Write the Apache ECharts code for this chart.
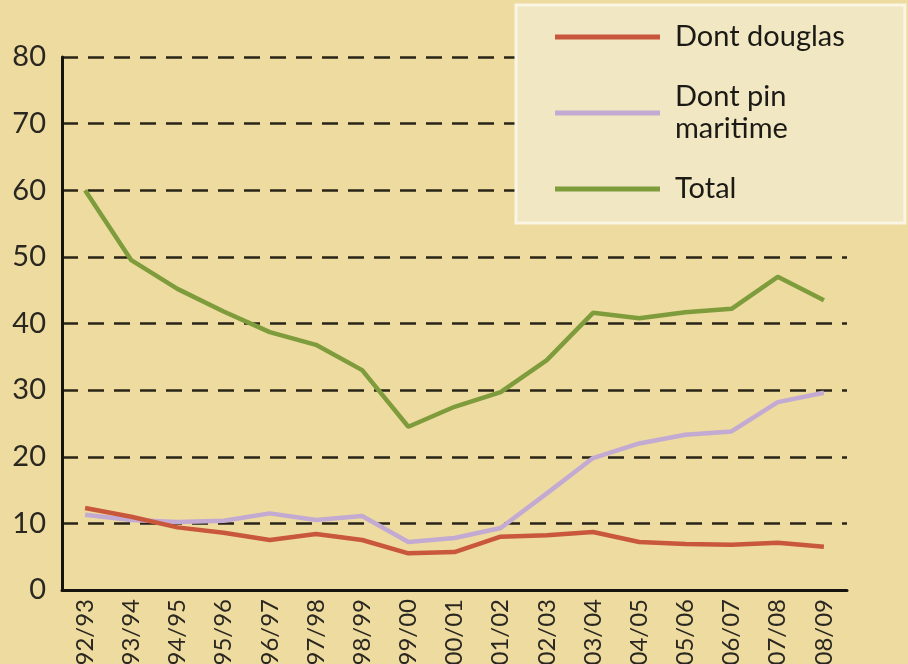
<!DOCTYPE html>
<html><head><meta charset="utf-8">
<script src="https://cdn.jsdelivr.net/npm/echarts@6/dist/echarts.min.js"></script>
<style>html,body{margin:0;padding:0;background:#eedb9f;}#c{width:908px;height:664px;}</style>
</head><body><div id="c"></div>
<script>
const categories = ['92/93','93/94','94/95','95/96','96/97','97/98','98/99','99/00','00/01','01/02','02/03','03/04','04/05','05/06','06/07','07/08','08/09'];
const douglas = [12.3, 11.0, 9.4, 8.6, 7.5, 8.4, 7.5, 5.5, 5.7, 8.0, 8.2, 8.7, 7.2, 6.9, 6.8, 7.1, 6.5];
const pinMaritime = [11.3, 10.5, 10.2, 10.4, 11.5, 10.5, 11.1, 7.2, 7.8, 9.3, 14.5, 19.8, 22.0, 23.3, 23.8, 28.2, 29.6];
const total = [60, 49.5, 45.2, 41.8, 38.7, 36.8, 33.0, 24.5, 27.5, 29.7, 34.5, 41.6, 40.8, 41.7, 42.2, 47.0, 43.5];
const yTicks = [0, 10, 20, 30, 40, 50, 60, 70, 80];

const chart = echarts.init(document.getElementById('c'));
const lineW = 4.5;
chart.setOption({
  backgroundColor: '#eedb9f',
  animation: false,
  grid: { left: 62, right: 61, top: 57, bottom: 74, containLabel: false, outerBoundsMode: 'none' },
  legend: {
    orient: 'vertical',
    left: 516, top: 5,
    padding: [16, 60, 18, 39],
    itemGap: 28,
    itemWidth: 105, itemHeight: 5,
    icon: 'rect',
    backgroundColor: '#f1e7c3',
    borderColor: '#fbf6e4',
    borderWidth: 3,
    textStyle: { fontFamily: 'Lato', fontSize: 29, color: '#1b1a14', lineHeight: 32, padding: [0,0,0,10] },
    data: [
      { name: 'Dont douglas' },
      { name: 'Dont pin\nmaritime' },
      { name: 'Total' }
    ]
  },
  xAxis: {
    type: 'category',
    data: categories,
    boundaryGap: true,
    axisLine: { lineStyle: { color: '#16140e', width: 3 } },
    axisTick: { inside: true, length: 12, lineStyle: { color: '#16140e', width: 3 }, alignWithLabel: false },
    axisLabel: { rotate: 90, fontFamily: 'Lato', fontSize: 24, color: '#2a2720', margin: 9, interval: 0 }
  },
  yAxis: {
    type: 'value',
    min: 0, max: 80, interval: 10,
    axisLine: { show: true, lineStyle: { color: '#16140e', width: 3 } },
    axisTick: { show: false },
    axisLabel: { fontFamily: 'Lato', fontSize: 29, color: '#2a2720', margin: 16,
      formatter: v => yTicks.includes(v) ? String(v) : '' },
    splitLine: { show: true, lineStyle: { color: '#2a2418', width: 2.5, type: [16, 10] } }
  },
  series: [
    { name: 'Dont douglas', type: 'line', data: douglas, symbol: 'none', z: 4,
      lineStyle: { color: '#c9573c', width: lineW }, itemStyle: { color: '#c9573c' } },
    { name: 'Dont pin\nmaritime', type: 'line', data: pinMaritime, symbol: 'none', z: 3,
      lineStyle: { color: '#c3aad2', width: lineW }, itemStyle: { color: '#c3aad2' } },
    { name: 'Total', type: 'line', data: total, symbol: 'none', z: 5,
      lineStyle: { color: '#7f9c3c', width: lineW }, itemStyle: { color: '#7f9c3c' } }
  ]
});
</script></body></html>
